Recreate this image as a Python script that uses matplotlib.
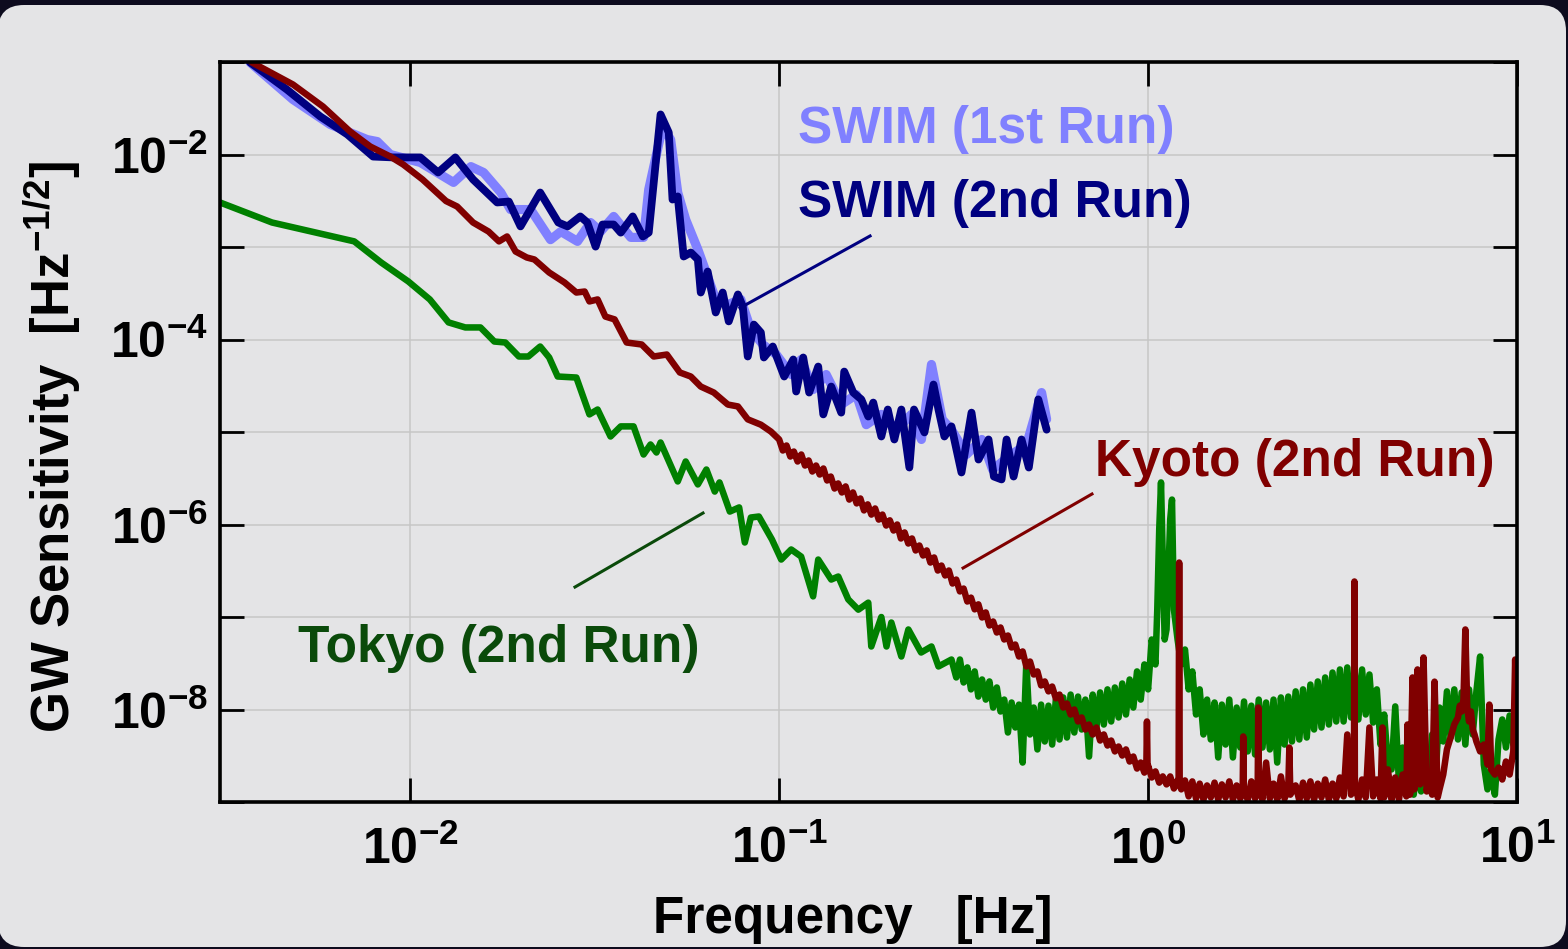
import matplotlib
matplotlib.use("Agg")
import matplotlib.pyplot as plt
from matplotlib.patches import FancyBboxPatch
from matplotlib.transforms import IdentityTransform
from matplotlib.ticker import NullLocator

plt.rcParams['font.family'] = ['Liberation Sans', 'DejaVu Sans']
plt.rcParams['font.weight'] = 'bold'
plt.rcParams['mathtext.fontset'] = 'custom'
plt.rcParams['mathtext.rm'] = 'Liberation Sans:bold'
plt.rcParams['mathtext.it'] = 'Liberation Sans:bold'
plt.rcParams['mathtext.bf'] = 'Liberation Sans:bold'
plt.rcParams['mathtext.default'] = 'rm'

# ---------------- data ----------------
# SWIM, first run
swim1_freq = [0.00368, 0.00481, 0.00607, 0.00764, 0.00814, 0.00883, 0.01065, 0.0131,
              0.0146, 0.0158, 0.0176, 0.0187, 0.0212, 0.024, 0.0256, 0.0284, 0.0308,
              0.0328, 0.0356, 0.0396, 0.0429, 0.0443, 0.0483, 0.0508, 0.0531, 0.0558,
              0.0602, 0.063, 0.0673, 0.0726, 0.0787, 0.0838, 0.0903, 0.0982, 0.1078,
              0.1147, 0.1237, 0.1341, 0.1473, 0.1619, 0.1722, 0.1892, 0.2078, 0.2283,
              0.243, 0.2587, 0.2767, 0.2931, 0.322, 0.3542, 0.3788, 0.4265, 0.4685,
              0.5144, 0.5309]
swim1_sens = [0.099, 3.93e-2, 2.11e-2, 1.45e-2, 1.38e-2, 1.0e-2, 8.2e-3, 4.99e-3,
              7.4e-3, 6.39e-3, 3.88e-3, 2.54e-3, 2.54e-3, 1.2e-3, 1.47e-3, 1.15e-3, 1.84e-3,
              1.47e-3, 2.14e-3, 1.27e-3, 1.27e-3, 4.18e-3, 2.0e-2, 1.45e-2, 3.88e-3, 1.98e-3,
              9.4e-4, 5.7e-4, 2.71e-4, 2.39e-4, 2.71e-4, 1.28e-4, 8.83e-5, 6.88e-5, 4.18e-5,
              6.08e-5, 2.88e-5, 4.18e-5, 1.98e-5, 2.54e-5, 1.2e-5, 1.55e-5, 1.06e-5, 1.55e-5,
              8.3e-6, 5.37e-5, 1.37e-5, 1.06e-5, 5.71e-6, 8.3e-6, 3.93e-6, 5.71e-6, 7.33e-6,
              2.67e-5, 1.37e-5]

# SWIM, second run
swim2_freq = [0.00368, 0.00463, 0.0057, 0.00675, 0.00793, 0.0090, 0.01065, 0.0119,
              0.01325, 0.0148, 0.0172, 0.0185, 0.0199, 0.0225, 0.0252, 0.0267, 0.0289,
              0.0302, 0.0318, 0.0332, 0.0356, 0.0372, 0.0401, 0.0427, 0.0443, 0.0477,
              0.0502, 0.0514, 0.0531, 0.0551, 0.0576, 0.0602, 0.0613, 0.064, 0.0673,
              0.0703, 0.073, 0.0773, 0.0797, 0.0822, 0.0854, 0.0892, 0.0909, 0.0961,
              0.1032, 0.1092, 0.1112, 0.1162, 0.1206, 0.1276, 0.1317, 0.1384, 0.1473,
              0.1501, 0.1588, 0.167, 0.1744, 0.1799, 0.1892, 0.197, 0.2052, 0.2144,
              0.2254, 0.232, 0.2476, 0.262, 0.2703, 0.2805, 0.2931, 0.312, 0.3322,
              0.347, 0.3694, 0.382, 0.4007, 0.4134, 0.432, 0.4539, 0.475, 0.504, 0.5309]
swim2_sens = [0.099, 5.04e-2, 2.58e-2, 1.65e-2, 9.5e-3, 9.3e-3, 9.3e-3, 6.39e-3,
              9.3e-3, 5.37e-3, 3.03e-3, 3.1e-3, 1.67e-3, 3.88e-3, 1.84e-3, 1.67e-3, 2.14e-3,
              1.84e-3, 1.01e-3, 1.75e-3, 1.75e-3, 1.43e-3, 2.14e-3, 1.3e-3, 1.43e-3, 2.71e-2,
              1.73e-2, 3.26e-3, 3.52e-3, 7.89e-4, 8.72e-4, 7.33e-4, 3.22e-4, 5.43e-4, 1.96e-4,
              3.22e-4, 1.57e-4, 3.07e-4, 2.27e-4, 6.55e-5, 1.45e-4, 1.19e-4, 6.39e-5, 8.4e-5,
              3.98e-5, 6.08e-5, 2.74e-5, 6.39e-5, 2.67e-5, 5.1e-5, 1.55e-5, 3.1e-5, 1.62e-5,
              4.5e-5, 2.67e-5, 2.25e-5, 1.47e-5, 2.08e-5, 8.94e-6, 1.75e-5, 8.3e-6, 1.75e-5,
              4.13e-6, 1.75e-5, 9.9e-6, 3.26e-5, 1.75e-5, 8.94e-6, 1.15e-5, 3.65e-6, 1.62e-5,
              5.04e-6, 8.3e-6, 3.3e-6, 3.07e-6, 8.3e-6, 3.3e-6, 8.3e-6, 4.13e-6, 2.25e-5, 1.06e-5]

# Tokyo, second run: low-frequency part
tokyo_low_freq = [0.00305, 0.00422, 0.00705, 0.00834, 0.00988, 0.0113, 0.0127, 0.0141,
                  0.0155, 0.0169, 0.0181, 0.0197, 0.0209, 0.0225, 0.0238, 0.0251, 0.0282,
                  0.0306, 0.0322, 0.0349, 0.0372, 0.0403, 0.0429, 0.0448, 0.0465, 0.0477,
                  0.0531, 0.0558, 0.0602, 0.0635, 0.0669, 0.0689, 0.0735, 0.0779, 0.0807,
                  0.0838, 0.0881, 0.0956, 0.1013, 0.1078, 0.1147, 0.1236, 0.1276, 0.1384,
                  0.1446, 0.1539, 0.1639, 0.1744, 0.1777, 0.1892, 0.1954, 0.2014, 0.2144,
                  0.224, 0.2425, 0.2587, 0.2703, 0.2931]
tokyo_low_sens = [3.03e-3, 1.84e-3, 1.15e-3, 6.8e-4, 4.24e-4, 2.71e-4, 1.53e-4, 1.35e-4,
                  1.35e-4, 9.51e-5, 9.28e-5, 6.55e-5, 6.55e-5, 8.4e-5, 6.39e-5, 3.98e-5, 3.88e-5,
                  1.55e-5, 1.75e-5, 8.94e-6, 1.15e-5, 1.15e-5, 5.71e-6, 7.33e-6, 6.0e-6, 7.7e-6,
                  2.92e-6, 4.8e-6, 2.71e-6, 3.93e-6, 2.27e-6, 2.85e-6, 1.38e-6, 1.53e-6, 6.39e-7,
                  1.19e-6, 1.22e-6, 6.88e-7, 4.18e-7, 5.37e-7, 4.5e-7, 1.67e-7, 4.18e-7, 2.54e-7,
                  2.74e-7, 1.55e-7, 1.2e-7, 1.43e-7, 4.8e-8, 1.0e-7, 4.8e-8, 8.72e-8, 3.74e-8,
                  7.33e-8, 4.13e-8, 4.8e-8, 2.92e-8, 3.47e-8]

# Tokyo, second run: high-frequency part
tokyo_high_freq = [0.302, 0.309, 0.3162, 0.3236, 0.3311, 0.3388, 0.3467, 0.3548, 0.3631, 0.3715,
                   0.3802, 0.389, 0.3981, 0.4074, 0.4169, 0.4266, 0.4365, 0.4467, 0.4571, 0.4677,
                   0.4786, 0.4898, 0.5012, 0.5129, 0.5248, 0.537, 0.5495, 0.5623, 0.5754, 0.5888,
                   0.6026, 0.6166, 0.631, 0.6457, 0.6607, 0.6761, 0.6918, 0.7079, 0.7244, 0.7413,
                   0.7586, 0.7762, 0.7943, 0.8128, 0.8318, 0.8511, 0.871, 0.8913, 0.912, 0.9333,
                   0.955, 0.9772, 1.0, 1.023, 1.047, 1.059, 1.072, 1.084, 1.096, 1.109,
                   1.122, 1.148, 1.161, 1.175, 1.202, 1.23, 1.259, 1.288, 1.318, 1.349,
                   1.38, 1.413, 1.445, 1.479, 1.514, 1.549, 1.585, 1.622, 1.66, 1.698,
                   1.738, 1.778, 1.82, 1.862, 1.905, 1.95, 1.995, 2.042, 2.089, 2.138,
                   2.188, 2.239, 2.291, 2.344, 2.399, 2.455, 2.512, 2.57, 2.63, 2.692,
                   2.754, 2.818, 2.884, 2.951, 3.02, 3.09, 3.162, 3.236, 3.311, 3.388,
                   3.467, 3.548, 3.631, 3.715, 3.802, 3.89, 3.981, 4.074, 4.169, 4.266,
                   4.365, 4.467, 4.571, 4.677, 4.786, 4.898, 5.012, 5.129, 5.248, 5.37,
                   5.495, 5.623, 5.754, 5.888, 6.026, 6.166, 6.31, 6.457, 6.607, 6.761,
                   6.918, 7.079, 7.244, 7.413, 7.586, 7.762, 7.943, 8.128, 8.318, 8.511,
                   8.71, 8.913, 9.12, 9.333, 9.55, 9.772, 10.0]
tokyo_high_sens = [2.22e-8, 3.47e-8, 1.96e-8, 2.85e-8, 1.65e-8, 2.58e-8, 1.38e-8, 2.11e-8, 1.28e-8, 2.01e-8,
                   1.05e-8, 1.73e-8, 9.51e-9, 1.28e-8, 5.64e-9, 1.19e-8, 6.39e-9, 1.13e-8, 2.67e-9, 3.22e-8,
                   5.37e-9, 1.05e-8, 3.7e-9, 1.13e-8, 4.51e-9, 1.1e-8, 4.18e-9, 1.28e-8, 4.74e-9, 1.35e-8,
                   4.98e-9, 1.45e-8, 5.64e-9, 1.38e-8, 6.08e-9, 1.28e-8, 3.1e-9, 1.45e-8, 6.39e-9, 1.53e-8,
                   6.88e-9, 1.65e-8, 7.42e-9, 1.73e-8, 8.2e-9, 1.91e-8, 8.83e-9, 2.11e-8, 1.05e-8, 2.58e-8,
                   1.28e-8, 3.07e-8, 1.65e-8, 5.71e-8, 3.07e-8, 1.2e-7, 8.83e-7, 2.85e-6, 4.18e-7, 5.71e-8,
                   7.33e-8, 1.13e-6, 1.86e-6, 1.2e-7, 5.71e-8, 3.07e-8, 4.45e-8, 1.65e-8, 2.58e-8, 8.83e-9,
                   1.65e-8, 5.37e-9, 1.28e-8, 4.74e-9, 1.19e-8, 3.03e-9, 1.13e-8, 4.18e-9, 1.28e-8, 3.03e-9,
                   1.05e-8, 3.88e-9, 1.22e-8, 3.52e-9, 1.1e-8, 3.26e-9, 1.28e-8, 3.88e-9, 1.19e-8, 3.7e-9,
                   1.28e-8, 2.67e-9, 1.35e-8, 4.18e-9, 1.38e-8, 4.51e-9, 1.57e-8, 4.74e-9, 1.65e-8, 4.98e-9,
                   1.86e-8, 6.08e-9, 2.01e-8, 6.39e-9, 2.22e-8, 6.88e-9, 2.51e-8, 7.42e-9, 2.71e-8, 7.42e-9,
                   2.85e-8, 8.2e-9, 2.58e-8, 7.8e-9, 2.71e-8, 8.83e-9, 2.39e-8, 7.23e-9, 1.65e-8, 4.18e-9,
                   8.83e-9, 2.54e-9, 2.25e-9, 1.08e-8, 1.62e-9, 3.88e-9, 1.3e-9, 2.88e-9, 1.2e-9, 2.74e-9,
                   1.3e-9, 3.52e-9, 1.55e-9, 5.37e-9, 2.14e-9, 1.05e-8, 4.51e-9, 1.57e-8, 4.98e-9, 1.65e-8,
                   4.74e-9, 1.53e-8, 4.18e-9, 1.65e-8, 5.37e-9, 1.57e-8, 3.74e-8, 2.54e-9, 1.37e-9, 2.25e-9,
                   1.2e-9, 4.74e-9, 7.8e-9, 3.88e-9, 8.61e-9, 4.18e-9, 7.42e-9]

# Kyoto, second run: low-frequency part
kyoto_low_freq = [0.00372, 0.00481, 0.0058, 0.00687, 0.00779, 0.00883, 0.00957, 0.0108,
                  0.0125, 0.0134, 0.0148, 0.0163, 0.0174, 0.0183, 0.0193, 0.0207, 0.0217,
                  0.0238, 0.0262, 0.0282, 0.0297, 0.0306, 0.0322, 0.0338, 0.0358, 0.0386,
                  0.0424, 0.0457, 0.0496, 0.0538, 0.0576, 0.0613, 0.0665, 0.0726, 0.0773,
                  0.0822, 0.0892, 0.095]
kyoto_low_sens = [0.099, 5.71e-2, 3.3e-2, 1.77e-2, 1.22e-2, 9.5e-3, 7.8e-3, 5.37e-3,
                  3.14e-3, 2.74e-3, 1.84e-3, 1.47e-3, 1.15e-3, 1.3e-3, 8.94e-4, 7.7e-4, 7.33e-4,
                  5.3e-4, 4.13e-4, 3.22e-4, 3.3e-4, 2.58e-4, 2.71e-4, 1.77e-4, 1.65e-4, 9.28e-5,
                  8.83e-5, 6.55e-5, 6.88e-5, 4.4e-5, 3.98e-5, 3.1e-5, 2.67e-5, 1.98e-5, 1.89e-5,
                  1.37e-5, 1.2e-5, 1.01e-5]

# Kyoto, second run: 0.1 - 1.3 Hz
kyoto_mid_freq = [0.1, 0.1023, 0.1047, 0.1072, 0.1096, 0.1122, 0.1148, 0.1175, 0.1202, 0.123,
                  0.1259, 0.1288, 0.1318, 0.1349, 0.138, 0.1413, 0.1445, 0.1479, 0.1514, 0.1549,
                  0.1585, 0.1622, 0.166, 0.1698, 0.1738, 0.1778, 0.182, 0.1862, 0.1905, 0.195,
                  0.1995, 0.2042, 0.2089, 0.2138, 0.2188, 0.2239, 0.2291, 0.2344, 0.2399, 0.2455,
                  0.2512, 0.257, 0.263, 0.2692, 0.2754, 0.2818, 0.2884, 0.2951, 0.302, 0.309,
                  0.3162, 0.3236, 0.3311, 0.3388, 0.3467, 0.3548, 0.3631, 0.3715, 0.3802, 0.389,
                  0.3981, 0.4074, 0.4169, 0.4266, 0.4365, 0.4467, 0.4571, 0.4677, 0.4786, 0.4898,
                  0.5012, 0.5129, 0.5248, 0.537, 0.5495, 0.5623, 0.5754, 0.5888, 0.6026, 0.6166,
                  0.631, 0.6457, 0.6607, 0.6761, 0.6918, 0.7079, 0.7244, 0.7413, 0.7586, 0.7762,
                  0.7943, 0.8128, 0.8318, 0.8511, 0.871, 0.8913, 0.912, 0.9333, 0.955, 0.9772,
                  0.989, 0.993, 0.997,
                  1.0, 1.023, 1.047, 1.072, 1.096, 1.122, 1.148, 1.175, 1.202,
                  1.21, 1.214, 1.218,
                  1.23, 1.259]
kyoto_mid_sens = [8.30e-6, 6.31e-6, 7.15e-6, 5.43e-6, 6.15e-6, 4.80e-6, 5.71e-6, 4.34e-6, 4.92e-6, 3.74e-6,
                  4.34e-6, 3.47e-6, 4.03e-6, 2.99e-6, 3.30e-6, 2.45e-6, 2.78e-6, 2.22e-6, 2.58e-6, 1.86e-6,
                  2.22e-6, 1.69e-6, 1.91e-6, 1.42e-6, 1.65e-6, 1.28e-6, 1.49e-6, 1.13e-6, 1.28e-6, 9.75e-7,
                  1.11e-6, 8.61e-7, 1.0e-6, 7.06e-7, 8.2e-7, 6.23e-7, 7.06e-7, 5.24e-7, 5.93e-7, 4.62e-7,
                  5.24e-7, 3.88e-7, 4.40e-7, 3.18e-7, 3.6e-7, 2.81e-7, 3.18e-7, 2.30e-7, 2.54e-7, 1.89e-7,
                  2.03e-7, 1.47e-7, 1.62e-7, 1.21e-7, 1.37e-7, 9.88e-8, 1.12e-7, 8.09e-8, 8.94e-8, 6.80e-8,
                  7.70e-8, 5.71e-8, 6.31e-8, 4.68e-8, 5.04e-8, 3.74e-8, 4.24e-8, 2.92e-8, 3.30e-8, 2.39e-8,
                  2.58e-8, 1.82e-8, 2.01e-8, 1.57e-8, 1.77e-8, 1.32e-8, 1.45e-8, 1.05e-8, 1.16e-8, 8.83e-9,
                  1.0e-8, 7.42e-9, 8.2e-9, 6.08e-9, 6.88e-9, 5.37e-9, 6.39e-9, 4.62e-9, 5.37e-9, 4.08e-9,
                  4.62e-9, 3.52e-9, 3.98e-9, 3.18e-9, 3.7e-9, 2.74e-9, 3.1e-9, 2.30e-9, 2.67e-9, 2.08e-9,
                  2.25e-9, 7.42e-9, 2.25e-9,
                  2.48e-9, 1.84e-9, 2.14e-9, 1.62e-9, 1.89e-9, 1.55e-9, 1.89e-9, 1.40e-9, 1.71e-9,
                  1.55e-9, 3.88e-7, 1.55e-9,
                  1.37e-9, 1.71e-9]

# Kyoto, second run: 1.3 - 10 Hz
kyoto_high_freq = [1.288, 1.318, 1.349, 1.38, 1.413, 1.445, 1.479, 1.514, 1.549, 1.585,
                   1.622, 1.66, 1.698, 1.738, 1.778, 1.805, 1.811, 1.817, 1.862, 1.905,
                   1.95, 1.982, 1.989, 1.995, 2.042, 2.089, 2.138, 2.188, 2.239, 2.291,
                   2.344, 2.399, 2.415, 2.43, 2.512, 2.57, 2.63, 2.692, 2.754, 2.818,
                   2.884, 2.951, 3.02, 3.09, 3.162, 3.236, 3.311, 3.388, 3.467, 3.548,
                   3.615, 3.625, 3.635, 3.715, 3.802, 3.89, 3.981, 4.074, 4.169, 4.266,
                   4.318, 4.365, 4.467, 4.571, 4.677, 4.786, 4.898, 5.012, 5.049, 5.129,
                   5.21, 5.27, 5.375, 5.46, 5.58, 5.69, 5.794, 5.888, 5.977, 6.095,
                   6.166, 6.31, 6.457, 6.607, 6.761, 6.918, 6.998, 7.079, 7.16, 7.244,
                   7.33, 7.413, 7.5, 7.586, 7.67, 7.762, 7.943, 8.128, 8.318, 8.414,
                   8.511, 8.71, 8.913, 9.12, 9.333, 9.55, 9.772, 9.886, 10.0]
kyoto_high_sens = [1.15e-9, 1.67e-9, 1.09e-9, 1.58e-9, 1.06e-9, 1.51e-9, 1.12e-9, 1.62e-9, 1.06e-9, 1.55e-9,
                   1.12e-9, 1.67e-9, 1.06e-9, 1.51e-9, 1.09e-9, 1.37e-9, 5.11e-9, 1.37e-9, 1.06e-9, 1.67e-9,
                   1.09e-9, 1.4e-9, 1.05e-8, 1.4e-9, 1.06e-9, 2.67e-9, 1.09e-9, 1.58e-9, 1.06e-9, 1.89e-9,
                   1.09e-9, 1.43e-9, 3.88e-9, 1.2e-9, 1.51e-9, 1.04e-9, 1.62e-9, 1.09e-9, 1.67e-9, 1.06e-9,
                   1.58e-9, 1.12e-9, 1.75e-9, 1.06e-9, 1.58e-9, 1.09e-9, 1.84e-9, 1.15e-9, 5.37e-9, 1.2e-9,
                   1.6e-9, 2.42e-7, 1.6e-9, 1.06e-9, 1.75e-9, 1.12e-9, 6.39e-9, 1.15e-9, 1.75e-9, 1.09e-9,
                   6.39e-9, 1.12e-9, 2.25e-9, 1.06e-9, 1.84e-9, 1.06e-9, 1.98e-9, 1.15e-9, 6.88e-9, 1.2e-9,
                   2.22e-8, 1.37e-9, 2.71e-8, 1.55e-9, 3.65e-8, 1.3e-9, 1.89e-9, 1.2e-9, 2.0e-8, 1.12e-9,
                   1.37e-9, 1.98e-9, 3.7e-9, 4.98e-9, 6.88e-9, 8.2e-9, 1.1e-8, 9.51e-9, 1.28e-8, 7.33e-8,
                   1.05e-8, 7.42e-9, 9.51e-9, 6.08e-9, 5.37e-9, 4.51e-9, 3.52e-9, 4.18e-9, 2.54e-9, 1.13e-8,
                   2.25e-9, 1.98e-9, 2.36e-9, 1.75e-9, 2.74e-9, 1.98e-9, 3.52e-9, 3.47e-8, 3.1e-9]

tokyo_freq = tokyo_low_freq + tokyo_high_freq
tokyo_sens = tokyo_low_sens + tokyo_high_sens
kyoto_freq = kyoto_low_freq + kyoto_mid_freq + kyoto_high_freq
kyoto_sens = kyoto_low_sens + kyoto_mid_sens + kyoto_high_sens

x_ticks = [1e-2, 1e-1, 1e0, 1e1]
x_tick_labels = [r'$10^{-2}$', r'$10^{-1}$', r'$10^{0}$', r'$10^{1}$']
y_ticks = [1e-9, 1e-8, 1e-7, 1e-6, 1e-5, 1e-4, 1e-3, 1e-2, 1e-1]
y_tick_labels = ['', r'$10^{-8}$', '', r'$10^{-6}$', '', r'$10^{-4}$', '', r'$10^{-2}$', '']

# ---------------- figure ----------------
W, H = 1568, 949
fig = plt.figure(figsize=(W / 100, H / 100), dpi=100, facecolor='#0d0b1e')

panel = FancyBboxPatch((-2, 2), 1568, 942,
                       boxstyle='round,pad=0,rounding_size=26',
                       transform=IdentityTransform(),
                       facecolor='#e4e4e6', edgecolor='none', zorder=-5)
fig.add_artist(panel)

ax = fig.add_axes([220 / W, (H - 802) / H, 1297 / W, 740 / H])
ax.patch.set_alpha(0)
ax.set_xscale('log')
ax.set_yscale('log')
ax.set_xlim(0.00305, 10)
ax.set_ylim(1e-9, 1e-1)

ax.plot(swim1_freq, swim1_sens, color='#8080ff', lw=6.6, zorder=2,
        solid_joinstyle='round', solid_capstyle='round')
ax.plot(swim2_freq, swim2_sens, color='#000080', lw=5.6, zorder=3,
        solid_joinstyle='round', solid_capstyle='round')
ax.plot(tokyo_freq, tokyo_sens, color='#008000', lw=4.7, zorder=4,
        solid_joinstyle='round', solid_capstyle='round')
ax.plot(kyoto_freq, kyoto_sens, color='#800000', lw=4.7, zorder=5,
        solid_joinstyle='round', solid_capstyle='round')

ax.set_xticks(x_ticks)
ax.set_xticklabels(x_tick_labels)
ax.set_yticks(y_ticks)
ax.set_yticklabels(y_tick_labels)
ax.xaxis.set_minor_locator(NullLocator())
ax.yaxis.set_minor_locator(NullLocator())
ax.tick_params(which='major', direction='in', length=17, width=2.0,
               top=True, right=True, labelsize=36, colors='black')
ax.tick_params(axis='x', pad=17)
ax.tick_params(axis='y', pad=9)

for sp in ax.spines.values():
    sp.set_linewidth(2.6)
    sp.set_color('black')
    sp.set_zorder(7)

ax.set_axisbelow(True)
ax.grid(True, which='major', color='#c6c6c6', lw=1.1)

# leader lines (axes fractions)
ax.plot([0.5012, 0.4009], [0.7649, 0.6676], transform=ax.transAxes,
        color='#000080', lw=2.2, clip_on=False, zorder=6)
ax.plot([0.6723, 0.5729], [0.4162, 0.3162], transform=ax.transAxes,
        color='#800000', lw=2.2, clip_on=False, zorder=6)
ax.plot([0.3724, 0.2737], [0.3905, 0.2905], transform=ax.transAxes,
        color='#0a4a0a', lw=2.2, clip_on=False, zorder=6)

fs = 37
fig.text(798 / W, 1 - 143 / H, 'SWIM (1st Run)', color='#8080ff', fontsize=fs,
         fontweight='bold', ha='left', va='baseline')
fig.text(798 / W, 1 - 217 / H, 'SWIM (2nd Run)', color='#000080', fontsize=fs,
         fontweight='bold', ha='left', va='baseline')
fig.text(1095 / W, 1 - 476 / H, 'Kyoto (2nd Run)', color='#800000', fontsize=fs,
         fontweight='bold', ha='left', va='baseline')
fig.text(298 / W, 1 - 662 / H, 'Tokyo (2nd Run)', color='#0a4a0a', fontsize=fs,
         fontweight='bold', ha='left', va='baseline')

fig.text(853 / W, 1 - 933 / H, 'Frequency   [Hz]', color='black', fontsize=fs,
         fontweight='bold', ha='center', va='baseline')
fig.text(52 / W, 1 - 447 / H, r'GW Sensitivity  [Hz$^{-1/2}$]', color='black',
         fontsize=38, fontweight='bold', rotation=90, ha='center', va='center')

fig.savefig('out.png', dpi=100, facecolor=fig.get_facecolor())
